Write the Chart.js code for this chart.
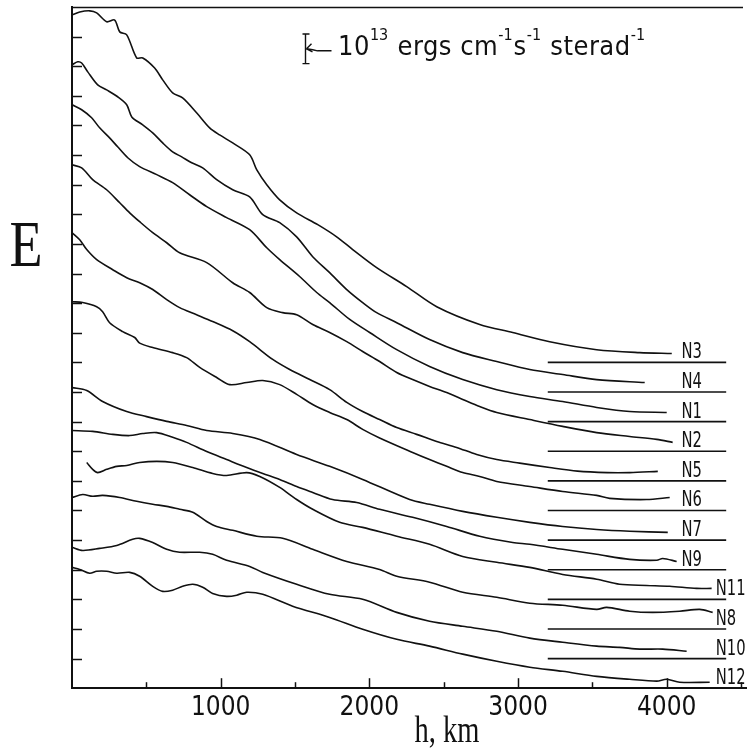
<!DOCTYPE html>
<html>
<head>
<meta charset="utf-8">
<script src="https://cdn.jsdelivr.net/npm/chart.js@4.4.0/dist/chart.umd.min.js"></script>
<style>
  html, body { margin: 0; padding: 0; background: #fff; }
</style>
</head>
<body>
<canvas id="profileChart" width="747" height="753"></canvas>
<script>
// series names, top to bottom, and the level of each one's zero line (in 10^13 units)
const seriesNames = ['N3', 'N4', 'N1', 'N2', 'N5', 'N6', 'N7', 'N9', 'N11', 'N8', 'N10', 'N12'];
const baseLevels = [11, 10, 9, 8, 7, 6, 5, 4, 3, 2, 1, 0];
const baseSpanKm = [3200, 4400];
const xTickLabels = ['1000', '2000', '3000', '4000'];

// [h km, E]
const n3 = [[0,22.73],[52,22.83],[119,22.87],[166,22.80],[233,22.50],[287,22.56],[321,22.16],[368,22.06],[435,21.28],[476,21.28],[556,20.94],[610,20.54],[677,20.10],[744,19.93],[838,19.43],[926,18.92],[993,18.68],[1081,18.41],[1195,18.01],[1243,17.50],[1310,17.00],[1397,16.49],[1511,16.05],[1653,15.65],[1780,15.24],[1888,14.81],[2049,14.20],[2251,13.56],[2453,12.88],[2742,12.28],[2964,12.01],[3213,11.70],[3529,11.43],[3818,11.33],[4034,11.30]];
const n4 = [[0,21.05],[38,21.15],[65,21.11],[106,20.81],[173,20.37],[233,20.20],[307,19.97],[368,19.70],[402,19.29],[476,19.02],[543,18.75],[610,18.41],[677,18.11],[738,17.94],[805,17.74],[879,17.57],[973,17.17],[1081,16.83],[1195,16.59],[1283,15.99],[1397,15.72],[1511,15.24],[1619,14.57],[1733,14.03],[1848,13.46],[1955,13.02],[2049,12.68],[2184,12.34],[2405,11.77],[2628,11.33],[2857,11.03],[3079,10.76],[3300,10.59],[3529,10.42],[3852,10.32]];
const n1 = [[0,19.70],[65,19.53],[132,19.26],[186,18.92],[253,18.58],[307,18.28],[375,17.91],[455,17.61],[570,17.34],[677,17.07],[791,16.66],[906,16.26],[1040,15.89],[1195,15.48],[1310,14.87],[1397,14.47],[1531,13.90],[1646,13.36],[1733,13.02],[1868,12.45],[2002,12.01],[2184,11.43],[2405,10.86],[2628,10.42],[2857,10.08],[3079,9.85],[3300,9.68],[3529,9.48],[3751,9.34],[4000,9.31]];
const n2 = [[0,17.67],[65,17.57],[139,17.17],[233,16.83],[321,16.39],[388,16.05],[455,15.75],[543,15.38],[637,15.04],[724,14.70],[906,14.37],[1081,13.69],[1195,13.36],[1310,12.85],[1417,12.68],[1511,12.61],[1619,12.28],[1733,12.01],[1848,11.70],[1955,11.37],[2069,11.03],[2184,10.66],[2291,10.42],[2405,10.19],[2520,9.98],[2628,9.75],[2742,9.51],[2857,9.31],[3079,9.07],[3300,8.84],[3529,8.63],[3751,8.50],[3933,8.40],[4040,8.30]];
const n5 = [[0,15.38],[52,15.14],[99,14.81],[166,14.47],[274,14.13],[368,13.86],[455,13.69],[543,13.46],[637,13.12],[724,12.85],[838,12.61],[946,12.38],[1081,12.07],[1195,11.70],[1350,11.10],[1464,10.76],[1599,10.42],[1733,10.08],[1848,9.65],[1955,9.34],[2069,9.07],[2184,8.80],[2318,8.57],[2453,8.33],[2587,8.13],[2722,7.89],[2857,7.72],[3011,7.60],[3213,7.45],[3400,7.33],[3600,7.28],[3751,7.28],[3940,7.32]];
const n6 = [[0,13.05],[72,13.02],[166,12.88],[206,12.71],[253,12.34],[341,12.04],[422,11.84],[455,11.65],[543,11.50],[677,11.33],[771,11.16],[859,10.83],[973,10.49],[1061,10.25],[1175,10.32],[1283,10.39],[1397,10.25],[1511,9.92],[1619,9.58],[1733,9.31],[1848,9.07],[1955,8.74],[2069,8.45],[2291,7.96],[2405,7.72],[2520,7.49],[2628,7.28],[2742,7.15],[2857,6.98],[3079,6.81],[3300,6.64],[3529,6.51],[3616,6.41],[3865,6.37],[4020,6.44]];
const n7 = [[0,10.15],[99,10.05],[206,9.68],[368,9.34],[502,9.17],[637,9.01],[771,8.87],[906,8.70],[1081,8.60],[1263,8.40],[1511,7.89],[1733,7.49],[1955,7.05],[2271,6.37],[2405,6.21],[2628,5.97],[2857,5.77],[3079,5.60],[3300,5.46],[3529,5.36],[3751,5.30],[4007,5.26]];
const n9 = [[0,8.70],[139,8.67],[274,8.57],[388,8.53],[476,8.60],[570,8.63],[677,8.47],[771,8.30],[906,7.99],[1040,7.72],[1175,7.45],[1283,7.25],[1397,7.05],[1511,6.81],[1619,6.61],[1753,6.37],[1915,6.27],[2069,6.04],[2291,5.77],[2520,5.46],[2742,5.13],[2964,4.92],[3079,4.86],[3300,4.69],[3529,4.52],[3751,4.35],[3933,4.32],[3973,4.38],[4067,4.28]];
const n11 = [[99,7.62],[139,7.39],[173,7.28],[233,7.39],[301,7.49],[368,7.52],[455,7.62],[570,7.66],[677,7.62],[812,7.45],[946,7.25],[1040,7.18],[1175,7.28],[1263,7.15],[1397,6.78],[1511,6.37],[1619,6.04],[1800,5.60],[1955,5.43],[2184,5.13],[2405,4.86],[2628,4.45],[2857,4.25],[3079,4.08],[3300,3.84],[3529,3.68],[3683,3.51],[3865,3.47],[4020,3.44],[4201,3.37],[4302,3.37]];
const n8 = [[0,6.44],[72,6.54],[139,6.48],[206,6.51],[321,6.44],[435,6.31],[543,6.21],[637,6.14],[724,6.04],[812,5.94],[906,5.63],[973,5.46],[1081,5.33],[1243,5.13],[1417,5.06],[1619,4.69],[1848,4.28],[2069,4.01],[2184,3.78],[2405,3.58],[2628,3.24],[2857,3.07],[3079,2.87],[3300,2.80],[3529,2.66],[3596,2.73],[3751,2.60],[3906,2.56],[4087,2.60],[4222,2.66],[4309,2.56]];
const n10 = [[0,4.76],[72,4.65],[186,4.72],[301,4.82],[408,5.03],[455,5.06],[543,4.92],[637,4.69],[724,4.59],[859,4.59],[946,4.52],[1040,4.32],[1195,4.11],[1283,3.91],[1511,3.51],[1733,3.17],[1955,3.00],[2184,2.56],[2405,2.26],[2628,2.09],[2857,1.92],[3079,1.69],[3300,1.55],[3529,1.42],[3683,1.38],[3818,1.32],[3973,1.32],[4134,1.25]];
const n12 = [[0,4.08],[52,4.01],[119,3.88],[166,3.95],[233,3.95],[301,3.88],[388,3.91],[455,3.78],[543,3.44],[610,3.27],[677,3.31],[744,3.44],[812,3.51],[879,3.41],[946,3.20],[1040,3.10],[1108,3.14],[1175,3.24],[1283,3.17],[1484,2.77],[1733,2.39],[1955,1.99],[2184,1.65],[2405,1.42],[2628,1.15],[2857,0.91],[3079,0.71],[3300,0.57],[3529,0.40],[3751,0.30],[3933,0.24],[4000,0.30],[4087,0.20],[4289,0.20]];

const curves = [n3, n4, n1, n2, n5, n6, n7, n9, n11, n8, n10, n12];

const INK = '#111';
const SANS = "'Liberation Sans Narrow', 'DejaVu Sans Condensed', 'Liberation Sans', sans-serif";
const SERIF = "'Liberation Serif', 'DejaVu Serif', serif";

const datasets = [];
curves.forEach(function (pts, i) {
    datasets.push({
        label: seriesNames[i],
        data: pts.map(p => ({ x: p[0], y: p[1] })),
        borderColor: INK,
        borderWidth: 1.6,
        pointRadius: 0,
        tension: 0.3,
        fill: false
    });
    // zero line of the same series
    datasets.push({
        label: seriesNames[i] + ' zero',
        data: baseSpanKm.map(km => ({ x: km, y: baseLevels[i] })),
        borderColor: INK,
        borderWidth: 1.6,
        pointRadius: 0,
        tension: 0
    });
});

// ticks inside the frame, series labels, axis letters and the scale bar
const decorations = {
    id: 'decorations',
    afterDraw(chart) {
        const ctx = chart.ctx;
        const xs = chart.scales.x, ys = chart.scales.y;
        const area = chart.chartArea;
        ctx.save();
        ctx.strokeStyle = INK;
        ctx.fillStyle = INK;
        ctx.lineWidth = 1.5;

        // y ticks
        for (let v = 1; v <= 22; v++) {
            const y = Math.round(ys.getPixelForValue(v)) + 0.5;
            ctx.beginPath();
            ctx.moveTo(area.left, y);
            ctx.lineTo(area.left + 10, y);
            ctx.stroke();
        }
        // x ticks, long at every 1000 km
        for (let v = 500; v <= 4500; v += 500) {
            const x = Math.round(xs.getPixelForValue(v)) + 0.5;
            const len = v % 1000 === 0 ? 10 : 6;
            ctx.beginPath();
            ctx.moveTo(x, area.bottom);
            ctx.lineTo(x, area.bottom - len);
            ctx.stroke();
        }
        // top frame line
        ctx.beginPath();
        ctx.moveTo(area.left, area.top + 0.5);
        ctx.lineTo(area.right - 4, area.top + 0.5);
        ctx.stroke();

        // series labels, squeezed a little
        ctx.font = '21px ' + SANS;
        ctx.textAlign = 'left';
        ctx.textBaseline = 'alphabetic';
        seriesNames.forEach(function (name, i) {
            ctx.save();
            ctx.translate(xs.getPixelForValue(i < 8 ? 4100 : 4330), ys.getPixelForValue(baseLevels[i]) - 4);
            ctx.scale(0.78, 1);
            ctx.fillText(name, 0, 0);
            ctx.restore();
        });

        // "E"
        ctx.save();
        ctx.translate(26, 266);
        ctx.scale(0.82, 1);
        ctx.font = '66px ' + SERIF;
        ctx.textAlign = 'center';
        ctx.fillText('E', 0, 0);
        ctx.restore();

        // "h, km"
        ctx.save();
        ctx.translate(447, 742);
        ctx.scale(0.75, 1);
        ctx.font = '38px ' + SERIF;
        ctx.textAlign = 'center';
        ctx.fillText('h, km', 0, 0);
        ctx.restore();

        // scale bar: one unit of E
        const unit = ys.getPixelForValue(0) - ys.getPixelForValue(1);
        const barX = 305.5, barTop = 34;
        ctx.lineWidth = 1.4;
        ctx.beginPath();
        ctx.moveTo(barX, barTop);
        ctx.lineTo(barX, barTop + unit);
        ctx.moveTo(barX - 3, barTop);
        ctx.lineTo(barX + 4, barTop);
        ctx.moveTo(barX - 3, barTop + unit);
        ctx.lineTo(barX + 4, barTop + unit);
        const ay = barTop + unit / 2;
        ctx.moveTo(barX + 1, ay);
        ctx.quadraticCurveTo(barX + 8, ay + 1, barX + 12, ay + 2);
        ctx.lineTo(barX + 26, ay + 2);
        ctx.moveTo(barX + 1, ay);
        ctx.lineTo(barX + 6, ay - 5);
        ctx.moveTo(barX + 1, ay);
        ctx.lineTo(barX + 7, ay + 3);
        ctx.stroke();

        const runs = [
            ['10', false], ['13', true], [' ergs cm', false], ['-1', true],
            ['s', false], ['-1', true], [' sterad', false], ['-1', true]
        ];
        let tx = 338;
        const base = 55;
        runs.forEach(function (r) {
            ctx.font = (r[1] ? '16px ' : '27px ') + SANS;
            ctx.letterSpacing = r[1] ? '0px' : '0.5px';
            ctx.fillText(r[0], tx, r[1] ? base - 15 : base);
            tx += ctx.measureText(r[0]).width + (r[1] ? 1 : 0);
        });
        ctx.letterSpacing = '0px';
        ctx.restore();
    }
};

new Chart(document.getElementById('profileChart').getContext('2d'), {
    type: 'line',
    data: { datasets: datasets },
    options: {
        responsive: false,
        animation: false,
        layout: { padding: { left: 72, top: 7, right: 0, bottom: 25.6 } },
        plugins: {
            legend: { display: false },
            tooltip: { enabled: false }
        },
        scales: {
            x: {
                type: 'linear',
                min: 0,
                max: 4540,
                grid: { display: false, drawTicks: false },
                border: { display: true, color: INK, width: 2 },
                afterBuildTicks: function (scale) {
                    scale.ticks = xTickLabels.map(s => ({ value: Number(s) }));
                },
                ticks: {
                    autoSkip: false,
                    maxRotation: 0,
                    padding: 4,
                    color: INK,
                    font: { family: SANS, size: 26 },
                    callback: value => String(value)
                }
            },
            y: {
                type: 'linear',
                min: 0,
                max: 23,
                grid: { display: false, drawTicks: false },
                border: { display: true, color: INK, width: 2 },
                ticks: { display: false }
            }
        }
    },
    plugins: [decorations]
});
</script>
</body>
</html>
